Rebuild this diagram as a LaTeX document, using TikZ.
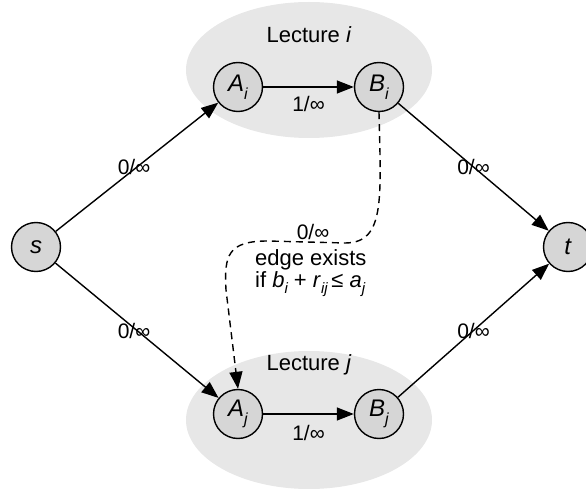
\documentclass[tikz,border=0pt]{standalone}
\usepackage{fontspec}
\setmainfont{Liberation Sans}
\usetikzlibrary{arrows.meta}
\definecolor{ellgray}{RGB}{231,231,231}
\definecolor{nodegray}{RGB}{214,214,214}
\newcommand\ssub[1]{\raisebox{-0.6ex}{\fontsize{16}{16}\selectfont\itshape #1}}
\newcommand\lsub[1]{\raisebox{-0.55ex}{\fontsize{15}{15}\selectfont\itshape #1}}
\begin{document}
\begin{tikzpicture}[x=1pt,y=-1pt,
  vert/.style={circle,draw=black,line width=1.4pt,fill=nodegray,minimum size=49pt,inner sep=0pt,font=\fontsize{24}{24}\selectfont},
  edge/.style={line width=1.4pt,-{Triangle[length=17pt,width=13pt]}},
  lab/.style={font=\fontsize{21}{21}\selectfont,inner sep=0pt},
  grp/.style={font=\fontsize{22}{22}\selectfont,inner sep=0pt}]
\useasboundingbox (0,0) rectangle (586,489);
\fill[ellgray] (309,70) ellipse [x radius=123pt, y radius=68pt];
\fill[ellgray] (309,420) ellipse [x radius=123pt, y radius=69pt];
\node[grp] (li) at (309,35) {Lecture \textit{i}};
\node[grp] (lj) at (309,365) {Lecture \textit{j}};
\node[vert] (s) at (36,247) {\textit{s}};
\node[vert] (t) at (568,247) {\textit{t}};
\node[vert] (Ai) at (238,87) {\textit{A}\ssub{i}};
\node[vert] (Bi) at (379,87) {\textit{B}\ssub{i}};
\node[vert] (Aj) at (238,414) {\textit{A}\ssub{j}};
\node[vert] (Bj) at (379,414) {\textit{B}\ssub{j}};
\draw[edge] (s) -- (Ai) node[lab,midway,xshift=-3pt] {0/∞};
\draw[edge] (s) -- (Aj) node[lab,midway,xshift=-3pt] {0/∞};
\draw[edge] (Bi) -- (t) node[lab,midway] {0/∞};
\draw[edge] (Bj) -- (t) node[lab,midway] {0/∞};
\draw[edge] (Ai) -- (Bi) node[lab,midway,yshift=-17pt] {1/∞};
\draw[edge] (Aj) -- (Bj) node[lab,midway,yshift=-19pt] {1/∞};
\coordinate (d1) at (345,243);
\coordinate (d2) at (268,241);
\coordinate (d3) at (226,290);
\draw[edge,dash pattern=on 7pt off 5pt] (Bi.south) .. controls (381,200) and (385,243) .. (d1) -- (d2) .. controls (228,241) and (224,255) .. (d3) -- (Aj.north);
\node[lab] (dl) at (313,232) {0/∞};
\node[lab,anchor=north west,align=left,font=\fontsize{22}{22}\selectfont] (cond) at (255,249) {edge exists\\if \textit{b}\lsub{i} + \textit{r}\lsub{ij}\,≤ \textit{a}\lsub{j}};
\end{tikzpicture}
\end{document}
